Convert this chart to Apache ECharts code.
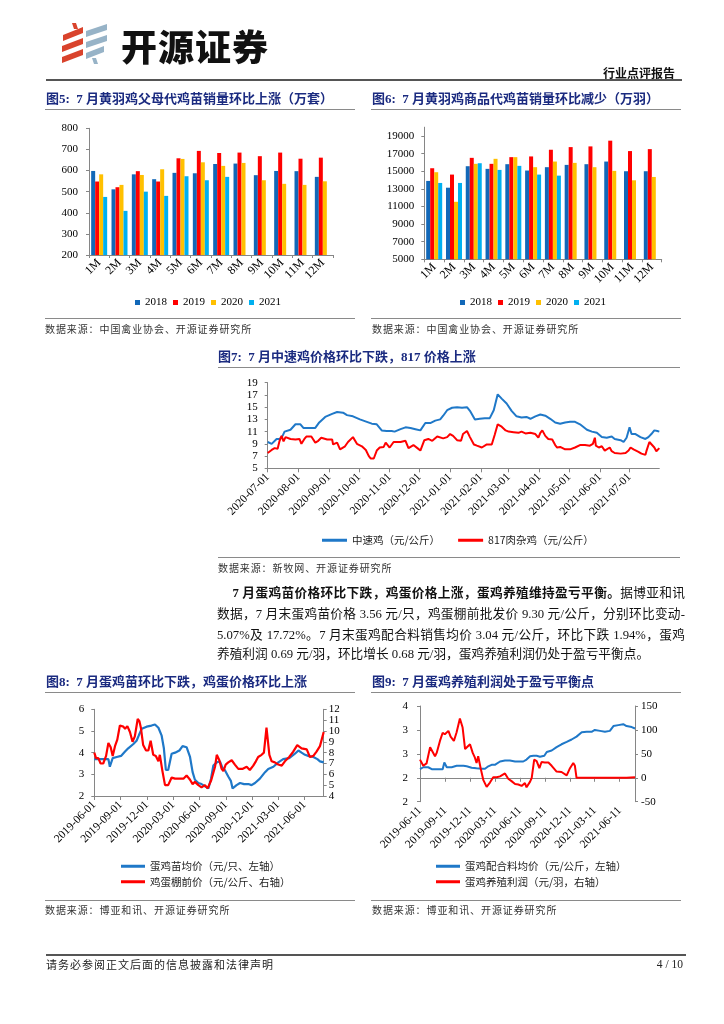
<!DOCTYPE html>
<html><head><meta charset="utf-8">
<script src="https://cdn.jsdelivr.net/npm/echarts@6/dist/echarts.min.js"></script>
<style>
html,body{margin:0;padding:0;background:#fff;}
#page{position:relative;width:724px;height:1024px;overflow:hidden;background:#fff;font-family:'Liberation Serif','Noto Sans CJK SC',serif;}
#chart{position:absolute;left:0;top:0;width:724px;height:1024px;z-index:0;}
.t{position:absolute;white-space:pre;z-index:1;}
.rule{position:absolute;height:0;border-top:1.3px solid #8a8a8a;z-index:1;}
.title{font-weight:bold;color:#1b2b80;font-size:13px;line-height:16px;}
.src{font-size:10px;letter-spacing:0.9px;color:#333;line-height:14px;font-family:'Noto Sans CJK SC',sans-serif;}
.para{position:absolute;font-size:12.7px;line-height:20px;color:#111;white-space:nowrap;z-index:1;}
.just{text-align:justify;text-align-last:justify;white-space:normal;}
</style></head>
<body>
<div id="page">
<div id="chart"></div>
<svg style="position:absolute;left:0;top:0;z-index:1" width="120" height="70">
 <polygon points="72,23 76,23 78,29 74,29" fill="#d9432c"/>
 <polygon points="63,35 83,27 83,33 63,41" fill="#d9432c"/>
 <polygon points="62,46 83,38 83,44 62,52" fill="#d9432c"/>
 <polygon points="62,57 83,49 83,55 62,63" fill="#d9432c"/>
 <polygon points="86,31 107,24 107,30 86,37" fill="#97b3c7"/>
 <polygon points="86,42 107,35 107,41 86,48" fill="#97b3c7"/>
 <polygon points="86,53 104,46 104,52 86,59" fill="#97b3c7"/>
 <polygon points="92,58 96,58 98,64 94,64" fill="#97b3c7"/>
</svg>
<div class="t" style="left:121px;top:24px;font-size:36px;line-height:42px;font-weight:900;letter-spacing:1px;color:#111;font-family:'Noto Sans CJK SC',sans-serif;">开源证券</div>
<div class="t" style="left:603px;top:65px;font-size:12px;line-height:15px;font-weight:bold;color:#111;font-family:'Noto Sans CJK SC',sans-serif;">行业点评报告</div>
<div class="rule" style="left:46px;width:636px;top:79px;border-top:2px solid #555;"></div>

<div class="t title" style="left:46px;top:90.5px;">图5:  7 月黄羽鸡父母代鸡苗销量环比上涨（万套）</div>
<div class="rule" style="left:45px;width:310px;top:108.5px;"></div>
<div class="t title" style="left:372px;top:90.5px;">图6:  7 月黄羽鸡商品代鸡苗销量环比减少（万羽）</div>
<div class="rule" style="left:371px;width:310px;top:108.5px;"></div>
<div class="rule" style="left:45px;width:310px;top:317.8px;"></div>
<div class="t src" style="left:45px;top:322.3px;">数据来源：中国禽业协会、开源证券研究所</div>
<div class="rule" style="left:371px;width:310px;top:317.8px;"></div>
<div class="t src" style="left:372px;top:322.3px;">数据来源：中国禽业协会、开源证券研究所</div>

<div class="t title" style="left:218px;top:349.3px;">图7:  7 月中速鸡价格环比下跌，817 价格上涨</div>
<div class="rule" style="left:218px;width:462px;top:366.8px;"></div>
<div class="rule" style="left:218px;width:462px;top:556.8px;"></div>
<div class="t src" style="left:218px;top:560.7px;">数据来源：新牧网、开源证券研究所</div>

<div class="para just" style="left:232.5px;width:452.5px;top:583.3px;"><b>7 月蛋鸡苗价格环比下跌，鸡蛋价格上涨，蛋鸡养殖维持盈亏平衡。</b>据博亚和讯</div>
<div class="para just" style="left:217px;width:468px;top:604.3px;">数据，7 月末蛋鸡苗价格 3.56 元/只，鸡蛋棚前批发价 9.30 元/公斤，分别环比变动-</div>
<div class="para just" style="left:217px;width:468px;top:625px;">5.07%及 17.72%。7 月末蛋鸡配合料销售均价 3.04 元/公斤，环比下跌 1.94%，蛋鸡</div>
<div class="para" style="left:217px;top:644.3px;">养殖利润 0.69 元/羽，环比增长 0.68 元/羽，蛋鸡养殖利润仍处于盈亏平衡点。</div>

<div class="t title" style="left:46px;top:673.7px;">图8:  7 月蛋鸡苗环比下跌，鸡蛋价格环比上涨</div>
<div class="rule" style="left:45px;width:310px;top:692.2px;"></div>
<div class="t title" style="left:372px;top:674.3px;">图9:  7 月蛋鸡养殖利润处于盈亏平衡点</div>
<div class="rule" style="left:371px;width:310px;top:692.2px;"></div>
<div class="rule" style="left:45px;width:310px;top:900.2px;"></div>
<div class="t src" style="left:45px;top:903px;">数据来源：博亚和讯、开源证券研究所</div>
<div class="rule" style="left:371px;width:310px;top:900.2px;"></div>
<div class="t src" style="left:372px;top:903px;">数据来源：博亚和讯、开源证券研究所</div>

<div class="rule" style="left:46px;width:640px;top:954px;border-top:2px solid #555;"></div>
<div class="t" style="left:46px;top:957px;font-size:11px;line-height:14px;letter-spacing:1px;color:#222;font-family:'Noto Sans CJK SC',sans-serif;">请务必参阅正文后面的信息披露和法律声明</div>
<div class="t" style="left:650px;top:957px;width:33px;text-align:right;font-size:11.5px;line-height:14px;color:#222;">4 / 10</div>
</div>

<script>
// ---------- data ----------
const months = ['1M','2M','3M','4M','5M','6M','7M','8M','9M','10M','11M','12M'];
const years = ['2018','2019','2020','2021'];
const parent2018 = [598,511,582,559,589,587,631,633,578,598,597,570];
const parent2019 = [548,521,597,548,658,693,683,685,668,685,656,661];
const parent2020 = [582,532,579,606,655,639,622,636,554,537,532,549];
const parent2021 = [475,409,500,480,573,554,570];
const comm2018 = [13900,13130,15570,15270,15800,15080,15460,15720,15800,16100,15000,15000];
const comm2019 = [15340,14620,16520,15840,16600,16680,17440,17740,17820,18470,17290,17510];
const comm2020 = [14890,11530,15840,16410,16600,15460,16100,15950,15460,15040,13970,14350];
const comm2021 = [13670,13670,15910,15150,15610,14620,14500];

const ticks7 = ['2020-07-01','2020-08-01','2020-09-01','2020-10-01','2020-11-01','2020-12-01','2021-01-01','2021-02-01','2021-03-01','2021-04-01','2021-05-01','2021-06-01','2021-07-01'];
const ticks8 = ['2019-06-01','2019-09-01','2019-12-01','2020-03-01','2020-06-01','2020-09-01','2020-12-01','2021-03-01','2021-06-01'];
const ticks9 = ['2019-06-11','2019-09-11','2019-12-11','2020-03-11','2020-06-11','2020-09-11','2020-12-11','2021-03-11','2021-06-11'];

const broilerPrice = [['2020-07-01',9.3],['2020-07-03',9.1],['2020-07-05',9.0],['2020-07-10',9.8],['2020-07-13',9.8],['2020-07-16',10.3],['2020-07-18',11.0],['2020-07-24',11.3],['2020-07-29',12.2],['2020-08-03',12.2],['2020-08-06',11.6],['2020-08-13',11.6],['2020-08-18',11.6],['2020-08-22',12.5],['2020-08-28',13.4],['2020-09-04',13.9],['2020-09-09',14.2],['2020-09-15',14.1],['2020-09-19',13.7],['2020-09-25',13.5],['2020-10-02',13.0],['2020-10-09',12.6],['2020-10-14',12.3],['2020-10-19',12.2],['2020-10-24',11.2],['2020-10-29',11.1],['2020-11-03',11.1],['2020-11-06',11.0],['2020-11-12',11.4],['2020-11-17',11.7],['2020-11-22',11.6],['2020-11-27',11.4],['2020-12-02',11.2],['2020-12-07',12.4],['2020-12-12',12.4],['2020-12-17',12.8],['2020-12-22',13.0],['2020-12-25',13.6],['2020-12-29',14.5],['2021-01-03',14.9],['2021-01-08',15.0],['2021-01-13',14.9],['2021-01-18',15.0],['2021-01-21',14.4],['2021-01-26',13.0],['2021-01-31',13.1],['2021-02-05',13.2],['2021-02-10',13.2],['2021-02-14',14.5],['2021-02-18',17.1],['2021-02-22',16.4],['2021-02-27',15.6],['2021-03-04',14.4],['2021-03-09',13.5],['2021-03-14',13.3],['2021-03-19',13.4],['2021-03-23',13.1],['2021-03-28',13.5],['2021-04-02',13.8],['2021-04-07',13.6],['2021-04-12',13.1],['2021-04-17',12.5],['2021-04-22',12.3],['2021-04-27',12.5],['2021-05-02',12.6],['2021-05-07',12.6],['2021-05-12',12.2],['2021-05-19',11.3],['2021-05-24',11.0],['2021-05-29',10.8],['2021-06-03',10.1],['2021-06-08',10.0],['2021-06-13',10.2],['2021-06-16',9.8],['2021-06-22',9.6],['2021-06-25',9.3],['2021-06-28',10.0],['2021-07-01',11.7],['2021-07-03',10.6],['2021-07-07',10.6],['2021-07-12',10.1],['2021-07-17',9.8],['2021-07-20',10.1],['2021-07-23',10.6],['2021-07-26',11.2],['2021-07-29',11.1],['2021-07-31',11.0]];

const hybrid817Price = [['2020-07-01',7.5],['2020-07-05',8.0],['2020-07-08',8.3],['2020-07-11',8.2],['2020-07-13',9.5],['2020-07-15',10.3],['2020-07-17',9.4],['2020-07-19',10.1],['2020-07-21',10.4],['2020-07-24',9.8],['2020-07-29',9.7],['2020-07-30',9.5],['2020-08-02',9.8],['2020-08-04',9.0],['2020-08-07',9.8],['2020-08-09',10.2],['2020-08-14',10.2],['2020-08-18',9.2],['2020-08-21',9.5],['2020-08-24',10.0],['2020-08-30',9.7],['2020-09-04',9.7],['2020-09-05',8.9],['2020-09-09',9.2],['2020-09-12',8.1],['2020-09-17',8.6],['2020-09-20',9.3],['2020-09-25',10.1],['2020-09-29',9.0],['2020-10-04',8.6],['2020-10-08',8.0],['2020-10-11',7.0],['2020-10-13',6.6],['2020-10-16',6.6],['2020-10-19',7.9],['2020-10-22',8.4],['2020-10-26',8.5],['2020-10-28',9.2],['2020-11-01',8.4],['2020-11-05',9.3],['2020-11-12',9.3],['2020-11-17',9.5],['2020-11-20',8.3],['2020-11-25',8.8],['2020-11-29',8.3],['2020-12-02',7.9],['2020-12-06',9.6],['2020-12-10',9.8],['2020-12-14',9.5],['2020-12-19',10.2],['2020-12-21',10.5],['2020-12-25',9.9],['2020-12-29',10.1],['2021-01-01',10.6],['2021-01-04',10.3],['2021-01-08',9.6],['2021-01-12',9.5],['2021-01-14',10.6],['2021-01-18',11.1],['2021-01-21',10.1],['2021-01-25',8.9],['2021-01-28',8.7],['2021-02-02',8.4],['2021-02-07',8.9],['2021-02-12',8.9],['2021-02-15',10.5],['2021-02-18',12.2],['2021-02-22',11.8],['2021-02-26',11.2],['2021-03-01',11.0],['2021-03-06',10.9],['2021-03-11',10.8],['2021-03-14',11.0],['2021-03-18',10.7],['2021-03-23',10.8],['2021-03-28',10.6],['2021-03-31',10.0],['2021-04-02',10.8],['2021-04-04',11.2],['2021-04-07',10.3],['2021-04-10',9.8],['2021-04-14',9.7],['2021-04-17',8.8],['2021-04-19',8.4],['2021-04-22',8.5],['2021-04-27',8.1],['2021-05-02',8.1],['2021-05-07',8.4],['2021-05-12',8.8],['2021-05-17',8.8],['2021-05-22',8.7],['2021-05-25',9.0],['2021-05-27',10.0],['2021-05-28',8.7],['2021-05-31',8.4],['2021-06-03',8.6],['2021-06-05',8.9],['2021-06-06',7.9],['2021-06-11',8.4],['2021-06-13',7.8],['2021-06-16',7.5],['2021-06-22',7.4],['2021-06-27',7.5],['2021-06-30',7.9],['2021-07-02',8.4],['2021-07-05',8.1],['2021-07-10',7.7],['2021-07-13',7.4],['2021-07-17',7.2],['2021-07-18',7.8],['2021-07-21',9.3],['2021-07-23',9.1],['2021-07-26',8.4],['2021-07-28',7.8],['2021-07-31',8.3]];

const chickPrice = [['2019-06-01',3.7],['2019-06-15',3.7],['2019-07-08',3.7],['2019-07-20',3.7],['2019-07-25',3.35],['2019-08-04',3.75],['2019-08-18',3.8],['2019-09-02',3.85],['2019-09-16',4.05],['2019-09-27',4.2],['2019-10-15',4.4],['2019-10-26',4.55],['2019-11-03',4.8],['2019-11-13',5.1],['2019-11-30',5.2],['2019-12-17',5.25],['2019-12-29',5.3],['2020-01-10',5.15],['2020-01-21',4.8],['2020-01-29',4.2],['2020-02-05',3.2],['2020-02-13',3.2],['2020-02-25',3.95],['2020-03-08',4.0],['2020-03-23',4.1],['2020-04-03',4.3],['2020-04-17',4.25],['2020-04-29',3.8],['2020-05-08',3.1],['2020-05-16',2.75],['2020-05-28',2.6],['2020-06-08',2.55],['2020-06-20',2.45],['2020-07-02',2.35],['2020-07-11',2.8],['2020-07-19',3.4],['2020-07-31',3.55],['2020-08-11',3.6],['2020-08-20',3.3],['2020-08-28',3.2],['2020-09-09',2.9],['2020-09-18',2.7],['2020-09-24',2.35],['2020-10-08',2.5],['2020-10-20',2.6],['2020-11-03',2.55],['2020-11-18',2.55],['2020-11-29',2.5],['2020-12-11',2.6],['2020-12-28',2.8],['2021-01-15',3.1],['2021-01-26',3.25],['2021-02-13',3.35],['2021-03-02',3.55],['2021-03-19',3.7],['2021-04-09',3.75],['2021-04-29',3.95],['2021-05-11',4.1],['2021-05-22',4.0],['2021-06-03',3.9],['2021-06-14',3.85],['2021-07-02',3.8],['2021-07-16',3.7],['2021-07-25',3.6],['2021-08-07',3.55]];

const eggPrice = [['2019-06-01',8.0],['2019-06-07',7.5],['2019-06-15',7.5],['2019-06-23',7.0],['2019-07-02',7.0],['2019-07-12',7.7],['2019-07-20',8.9],['2019-07-28',8.5],['2019-08-04',7.7],['2019-08-12',8.6],['2019-08-20',9.2],['2019-08-29',10.5],['2019-09-10',10.4],['2019-09-16',10.2],['2019-09-24',10.45],['2019-10-03',9.9],['2019-10-12',9.0],['2019-10-20',9.5],['2019-10-30',11.1],['2019-11-05',10.9],['2019-11-10',10.3],['2019-11-18',8.7],['2019-11-28',8.2],['2019-12-06',8.2],['2019-12-14',9.1],['2019-12-23',7.8],['2020-01-01',7.7],['2020-01-10',7.2],['2020-01-15',7.8],['2020-01-24',6.3],['2020-02-02',5.0],['2020-02-13',5.0],['2020-02-25',5.7],['2020-03-08',5.6],['2020-03-23',5.6],['2020-04-06',5.6],['2020-04-17',5.9],['2020-04-29',5.5],['2020-05-08',5.1],['2020-05-16',5.3],['2020-05-28',5.0],['2020-06-08',4.8],['2020-06-20',5.0],['2020-06-29',4.7],['2020-07-11',5.4],['2020-07-25',6.7],['2020-07-31',7.8],['2020-08-09',7.3],['2020-08-17',6.5],['2020-08-23',6.3],['2020-08-31',6.9],['2020-09-09',7.1],['2020-09-21',7.3],['2020-10-02',6.9],['2020-10-14',6.5],['2020-10-28',6.5],['2020-11-12',6.7],['2020-11-23',6.4],['2020-12-05',6.8],['2020-12-14',7.2],['2020-12-22',7.6],['2021-01-03',7.8],['2021-01-11',8.0],['2021-01-20',10.3],['2021-01-30',7.8],['2021-02-07',7.2],['2021-02-18',7.1],['2021-03-02',6.9],['2021-03-14',6.8],['2021-03-25',7.2],['2021-04-09',7.6],['2021-04-23',8.1],['2021-05-07',8.7],['2021-05-22',8.4],['2021-06-09',8.3],['2021-06-20',7.6],['2021-07-02',7.7],['2021-07-13',8.1],['2021-07-25',8.6],['2021-07-31',9.2],['2021-08-07',9.9]];

const feedPrice = [['2019-06-11',2.18],['2019-06-23',2.22],['2019-07-11',2.22],['2019-07-24',2.18],['2019-08-23',2.18],['2019-09-02',2.18],['2019-09-08',2.32],['2019-09-17',2.22],['2019-10-05',2.22],['2019-10-23',2.25],['2019-11-17',2.25],['2019-11-29',2.24],['2019-12-17',2.21],['2020-01-04',2.2],['2020-01-23',2.19],['2020-02-04',2.19],['2020-02-16',2.24],['2020-02-28',2.27],['2020-03-11',2.27],['2020-03-30',2.34],['2020-04-17',2.36],['2020-05-05',2.36],['2020-05-24',2.34],['2020-06-11',2.34],['2020-06-23',2.34],['2020-07-05',2.38],['2020-07-18',2.45],['2020-07-30',2.46],['2020-08-11',2.46],['2020-08-23',2.44],['2020-09-08',2.46],['2020-09-17',2.54],['2020-10-05',2.57],['2020-10-23',2.64],['2020-11-10',2.7],['2020-11-29',2.75],['2020-12-17',2.8],['2021-01-04',2.86],['2021-01-23',2.95],['2021-02-10',2.96],['2021-02-28',2.96],['2021-03-12',3.0],['2021-03-31',2.98],['2021-04-18',2.96],['2021-05-06',2.98],['2021-05-19',3.08],['2021-06-06',3.1],['2021-06-24',3.12],['2021-07-06',3.08],['2021-07-25',3.06],['2021-08-06',3.03]];

const layerProfit = [['2019-06-11',38],['2019-06-23',25],['2019-07-05',30],['2019-07-18',64],['2019-07-24',67],['2019-08-05',45],['2019-08-11',52],['2019-08-23',77],['2019-09-02',94],['2019-09-10',91],['2019-09-17',95],['2019-09-23',98],['2019-10-01',86],['2019-10-13',77],['2019-10-23',95],['2019-11-04',124],['2019-11-14',105],['2019-11-23',60],['2019-11-29',58],['2019-12-11',70],['2019-12-21',52],['2019-12-29',42],['2020-01-04',31],['2020-01-10',45],['2020-01-19',20],['2020-01-29',-5],['2020-02-10',-19],['2020-02-22',-10],['2020-03-05',1],['2020-03-18',1],['2020-03-30',3],['2020-04-17',9],['2020-04-29',-2],['2020-05-11',-7],['2020-05-24',-13],['2020-06-05',-14],['2020-06-17',-17],['2020-06-29',-11],['2020-07-05',-20],['2020-07-18',-8],['2020-07-24',0],['2020-08-02',38],['2020-08-11',35],['2020-08-21',20],['2020-08-29',33],['2020-09-10',32],['2020-09-23',32],['2020-10-05',25],['2020-10-23',13],['2020-11-10',12],['2020-11-29',5],['2020-12-11',20],['2020-12-23',31],['2020-12-29',25],['2021-01-04',0],['2021-02-10',0],['2021-03-31',0],['2021-05-19',0],['2021-07-06',0],['2021-08-06',1]];

// ---------- helpers ----------
function dayList(a, b) {
  const p = s => { const [y, m, d] = s.split('-').map(Number); return Date.UTC(y, m - 1, d); };
  const out = [];
  for (let t = p(a); t <= p(b); t += 86400000) out.push(new Date(t).toISOString().slice(0, 10));
  return out;
}
const days7 = dayList('2020-07-01', '2021-07-31');
const days8 = dayList('2019-06-01', '2021-08-07');
const days9 = dayList('2019-06-11', '2021-08-06');

const GREY = '#868686';
const SERIF = 'Liberation Serif';
const CJK = 'Noto Sans CJK SC';
const yearColors = ['#1268b8', '#ff0000', '#ffc000', '#00b0f0'];
const BLUE = '#1f78c8', RED = '#ff0000';
const plain = v => String(v);

function yAxis(grid, min, max, interval, opts) {
  opts = opts || {};
  return {
    type: 'value', gridIndex: grid, min, max, interval, position: opts.position || 'left',
    splitLine: { show: false },
    axisLine: { show: true, lineStyle: { color: GREY } },
    axisTick: { show: true, length: 3, lineStyle: { color: GREY } },
    axisLabel: Object.assign({ color: '#000', fontFamily: SERIF, fontSize: 11, margin: opts.margin || 10, formatter: plain }, opts.label || {})
  };
}
function dateAxis(grid, days, ticks) {
  const f = (i, v) => ticks.indexOf(v) >= 0;
  return {
    type: 'category', gridIndex: grid, data: days, boundaryGap: false,
    axisLine: { lineStyle: { color: GREY } },
    axisTick: { show: true, interval: f, length: 4, lineStyle: { color: GREY } },
    axisLabel: { interval: f, rotate: 45, color: '#000', fontFamily: SERIF, fontSize: 11.5, margin: 7 }
  };
}
function monthAxis(grid) {
  return {
    type: 'category', gridIndex: grid, data: months,
    axisLine: { lineStyle: { color: GREY } },
    axisTick: { show: true, length: 3, lineStyle: { color: GREY } },
    axisLabel: { rotate: 45, color: '#000', fontFamily: SERIF, fontSize: 12, margin: 6, interval: 0 }
  };
}
function lineSeries(name, x, y, data, color, width) {
  return { type: 'line', name, xAxisIndex: x, yAxisIndex: y, data, symbol: 'none', showSymbol: false,
    lineStyle: { color, width }, itemStyle: { color }, z: 3 };
}

const parentData = [parent2018, parent2019, parent2020, parent2021];
const commData = [comm2018, comm2019, comm2020, comm2021];

const option = {
  animation: false,
  grid: [
    { left: 89, top: 128.3, width: 244, height: 126.7, outerBoundsMode: 'none' },
    { left: 424.3, top: 127.2, width: 237.4, height: 132.1, outerBoundsMode: 'none' },
    { left: 267.7, top: 382.7, width: 391.6, height: 85.6, outerBoundsMode: 'none' },
    { left: 94.3, top: 709.3, width: 229.4, height: 86.7, outerBoundsMode: 'none' },
    { left: 420, top: 706, width: 215, height: 95.7, outerBoundsMode: 'none' }
  ],
  xAxis: [
    monthAxis(0),
    monthAxis(1),
    dateAxis(2, days7, ticks7),
    dateAxis(3, days8, ticks8),
    dateAxis(4, days9, ticks9)
  ],
  yAxis: [
    yAxis(0, 200, 800, 100, { margin: 11 }),
    yAxis(1, 5000, 20000, 2000, { margin: 10, label: { showMaxLabel: false } }),
    yAxis(2, 5, 19, 2, { margin: 10 }),
    yAxis(3, 2, 6, 1, { margin: 10 }),
    yAxis(3, 4, 12, 1, { position: 'right', margin: 5 }),
    yAxis(4, 1.5, 3.5, 0.5, { margin: 12, label: { formatter: v => String(Math.round(v)) } }),
    yAxis(4, -50, 150, 50, { position: 'right', margin: 6 })
  ],
  legend: [
    { data: years, left: 130, top: 292, icon: 'rect', itemWidth: 5, itemHeight: 5, itemGap: 6,
      textStyle: { fontFamily: SERIF, fontSize: 11, color: '#000' } },
    { data: years, left: 455, top: 292, icon: 'rect', itemWidth: 5, itemHeight: 5, itemGap: 6,
      textStyle: { fontFamily: SERIF, fontSize: 11, color: '#000' } },
    { data: ['中速鸡（元/公斤）', '817肉杂鸡（元/公斤）'], left: 317, top: 530, icon: 'rect', itemWidth: 25, itemHeight: 3, itemGap: 18,
      textStyle: { fontFamily: CJK, fontSize: 10.5, color: '#222' } },
    { data: ['蛋鸡苗均价（元/只、左轴）', '鸡蛋棚前价（元/公斤、右轴）'], orient: 'vertical', left: 116, top: 856, icon: 'rect', itemWidth: 24, itemHeight: 3, itemGap: 5,
      textStyle: { fontFamily: CJK, fontSize: 10.5, color: '#222' } },
    { data: ['蛋鸡配合料均价（元/公斤，左轴）', '蛋鸡养殖利润（元/羽，右轴）'], orient: 'vertical', left: 431, top: 856, icon: 'rect', itemWidth: 24, itemHeight: 3, itemGap: 5,
      textStyle: { fontFamily: CJK, fontSize: 10.5, color: '#222' } }
  ],
  series: [
    ...years.map((y, i) => ({ type: 'bar', name: y, xAxisIndex: 0, yAxisIndex: 0, data: parentData[i], barWidth: 4, barGap: '0%', itemStyle: { color: yearColors[i] } })),
    ...years.map((y, i) => ({ type: 'bar', name: y, xAxisIndex: 1, yAxisIndex: 1, data: commData[i], barWidth: 4, barGap: '0%', itemStyle: { color: yearColors[i] } })),
    lineSeries('中速鸡（元/公斤）', 2, 2, broilerPrice, BLUE, 2),
    lineSeries('817肉杂鸡（元/公斤）', 2, 2, hybrid817Price, RED, 2),
    lineSeries('蛋鸡苗均价（元/只、左轴）', 3, 3, chickPrice, BLUE, 2.2),
    lineSeries('鸡蛋棚前价（元/公斤、右轴）', 3, 4, eggPrice, RED, 2.2),
    lineSeries('蛋鸡配合料均价（元/公斤，左轴）', 4, 5, feedPrice, BLUE, 2),
    lineSeries('蛋鸡养殖利润（元/羽，右轴）', 4, 6, layerProfit, RED, 2)
  ]
};
const chart = echarts.init(document.getElementById('chart'), null, { renderer: 'canvas' });
chart.setOption(option);
</script>
</body></html>
